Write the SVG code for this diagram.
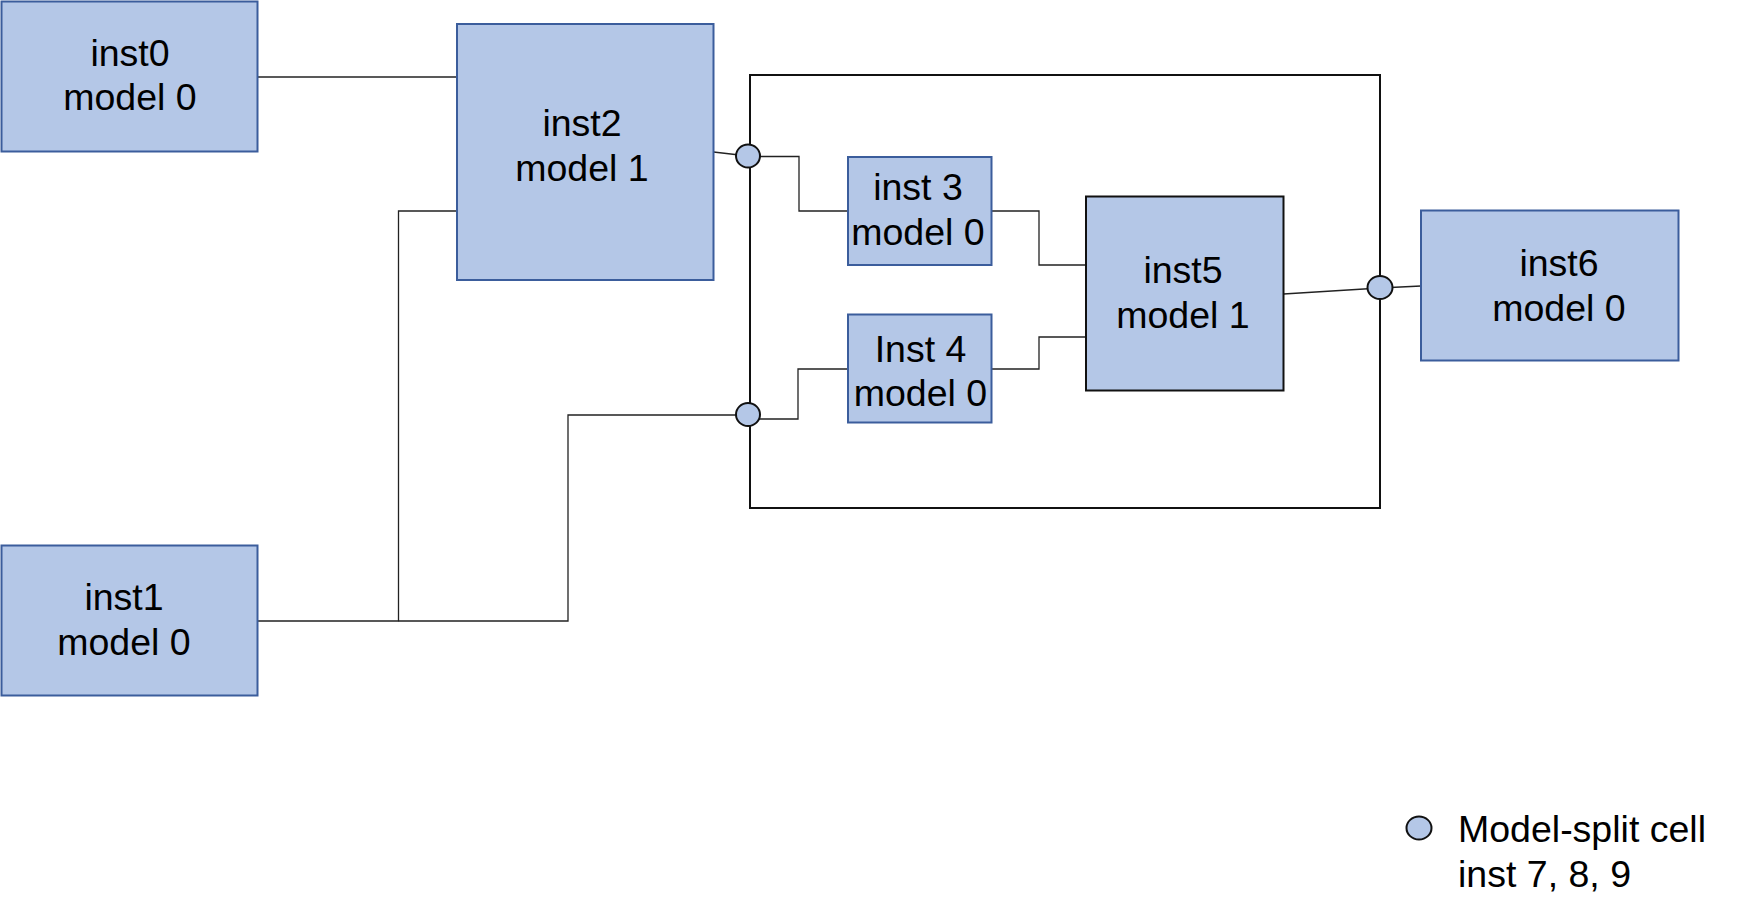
<svg xmlns="http://www.w3.org/2000/svg" width="1739" height="918" viewBox="0 0 1739 918">
<style>
.box{fill:#b4c7e7;stroke:#3b5d9c;stroke-width:2}
.boxk{fill:#b4c7e7;stroke:#111;stroke-width:2}
.lbl{font-family:"Liberation Sans",Arial,sans-serif;font-size:37.5px;fill:#000;text-anchor:middle}
.leg{font-family:"Liberation Sans",Arial,sans-serif;font-size:37.5px;fill:#000}
.wire{fill:none;stroke:#222;stroke-width:1.3}
.cell{fill:#b4c7e7;stroke:#111;stroke-width:2}
</style>
<rect width="1739" height="918" fill="#fff"/>
<g id="container"><rect x="750" y="75" width="630" height="433" fill="none" stroke="#111" stroke-width="2"/></g>
<g id="connectors">
<path class="wire" d="M258 77H457"/>
<path class="wire" d="M258 621H398.5V211H457"/>
<path class="wire" d="M398.5 621H568V415H748"/>
<path class="wire" d="M713.5 152L748 156"/>
<path class="wire" d="M748 156.5H799V211H848"/>
<path class="wire" d="M748 419H798V369H848"/>
<path class="wire" d="M991.5 211H1039V265H1086"/>
<path class="wire" d="M991.5 369H1039V337H1086"/>
<path class="wire" d="M1283.5 294L1380 288L1421 286"/>
</g>
<g id="inst0"><rect class="box" x="1.5" y="1.5" width="256" height="150"/><text class="lbl" x="130" y="66">inst0</text><text class="lbl" x="130" y="110">model 0</text></g>
<g id="inst1"><rect class="box" x="1.5" y="545.5" width="256" height="150"/><text class="lbl" x="124" y="610">inst1</text><text class="lbl" x="124" y="655">model 0</text></g>
<g id="inst2"><rect class="box" x="457" y="24" width="256.5" height="256"/><text class="lbl" x="582" y="136">inst2</text><text class="lbl" x="582" y="181">model 1</text></g>
<g id="inst3"><rect class="box" x="848" y="157" width="143.5" height="108"/><text class="lbl" x="918" y="200">inst 3</text><text class="lbl" x="918" y="245">model 0</text></g>
<g id="inst4"><rect class="box" x="848" y="314.5" width="143.5" height="108"/><text class="lbl" x="920.5" y="361.5">Inst 4</text><text class="lbl" x="920.5" y="405.5">model 0</text></g>
<g id="inst5"><rect class="boxk" x="1086" y="196.5" width="197.5" height="194"/><text class="lbl" x="1183" y="283">inst5</text><text class="lbl" x="1183" y="328">model 1</text></g>
<g id="inst6"><rect class="box" x="1421" y="210.5" width="257.5" height="150"/><text class="lbl" x="1559" y="276">inst6</text><text class="lbl" x="1559" y="321">model 0</text></g>
<g id="cell7"><ellipse class="cell" cx="748" cy="156" rx="12" ry="11.5"/></g>
<g id="cell8"><ellipse class="cell" cx="748" cy="414.5" rx="12" ry="11.5"/></g>
<g id="cell9"><ellipse class="cell" cx="1380" cy="287.5" rx="12.5" ry="11.5"/></g>
<g id="legend"><ellipse class="cell" cx="1419" cy="828" rx="12.5" ry="11.5"/><text class="leg" x="1458" y="842">Model-split cell</text><text class="leg" x="1458" y="887">inst 7, 8, 9</text></g>
</svg>
